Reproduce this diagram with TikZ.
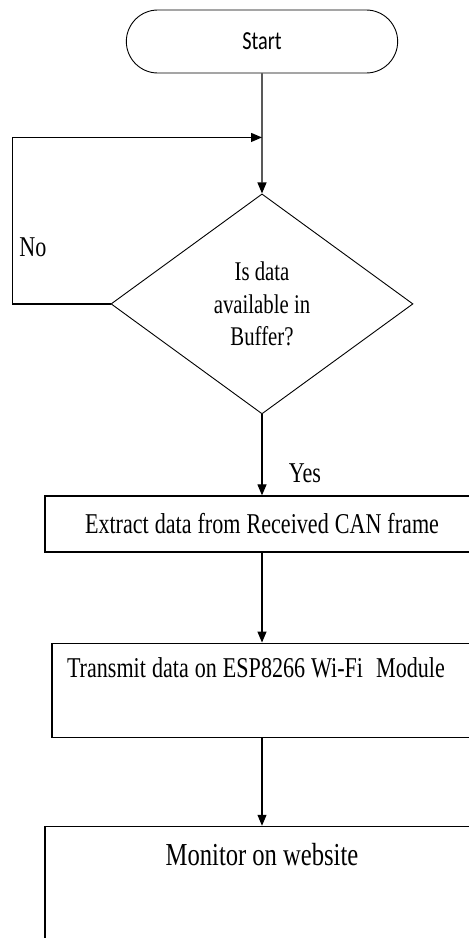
\documentclass[tikz,border=0pt]{standalone}
\usepackage{fontspec}
\usetikzlibrary{positioning,shapes.geometric,shapes.misc,arrows.meta}
\newfontfamily\flowserif[FakeStretch=0.77]{Liberation Serif}
\newfontfamily\flowsans[FakeStretch=0.78]{Carlito}
\newcommand\serifat[2]{\flowserif\fontsize{#1}{#2}\selectfont}

\begin{document}
\begin{tikzpicture}[
  x=1pt, y=-1pt,
  >={Triangle[length=11pt,width=9pt]},
  line width=1.2pt,
  terminal/.style={
    draw, rounded rectangle, line width=0.9pt,
    minimum width=278pt, minimum height=63pt,
    font=\flowsans\fontsize{26}{30}\selectfont},
  decision/.style={
    draw, diamond, line width=0.9pt, inner sep=0pt,
    minimum width=302pt, minimum height=220pt, align=center,
    font=\serifat{27}{32.5}},
  proc/.style={
    draw, rectangle, inner xsep=15pt, text width=404pt, align=center,
    text height=19pt, text depth=0pt, font=\serifat{28.7}{33},
    execute at begin node={\spaceskip=6pt\xspaceskip=6pt}},
  lab/.style={inner sep=0pt, font=\serifat{28.7}{33}}]

  \useasboundingbox (0,0) rectangle (469,938);
  \clip (0,0) rectangle (469,938);

  \node[terminal] (start) at (262,41.5) {Start};
  \coordinate[below=64pt of start] (join);
  \node[decision, below=120pt of start] (test) {Is data\\ available in\\ Buffer?};
  \node[proc, below=81pt of test, inner ysep=18.5pt] (extract)
    {Extract data from Received CAN frame};
  \node[proc, below=90pt of extract, inner ysep=15pt, text width=390pt,
    text depth=45pt, align=left] (transmit)
    {\mbox{Transmit data on ESP8266 Wi-Fi\hspace{7pt} Module}};
  \node[proc, below=88pt of transmit, inner ysep=20pt, text depth=160pt,
    font=\serifat{32}{36}] (monitor)
    {Monitor on website};

  \draw[->] (start) -- (test);
  \draw[->] (test.west) -- ++(-98pt,0) |- (join);
  \draw[->] (test) -- (extract);
  \draw[->] (extract) -- (transmit);
  \draw[->] (transmit) -- (monitor);

  \node[lab] (no) at (33,247) {No};
  \node[lab] (yes) at (305,473) {Yes};
\end{tikzpicture}
\end{document}
